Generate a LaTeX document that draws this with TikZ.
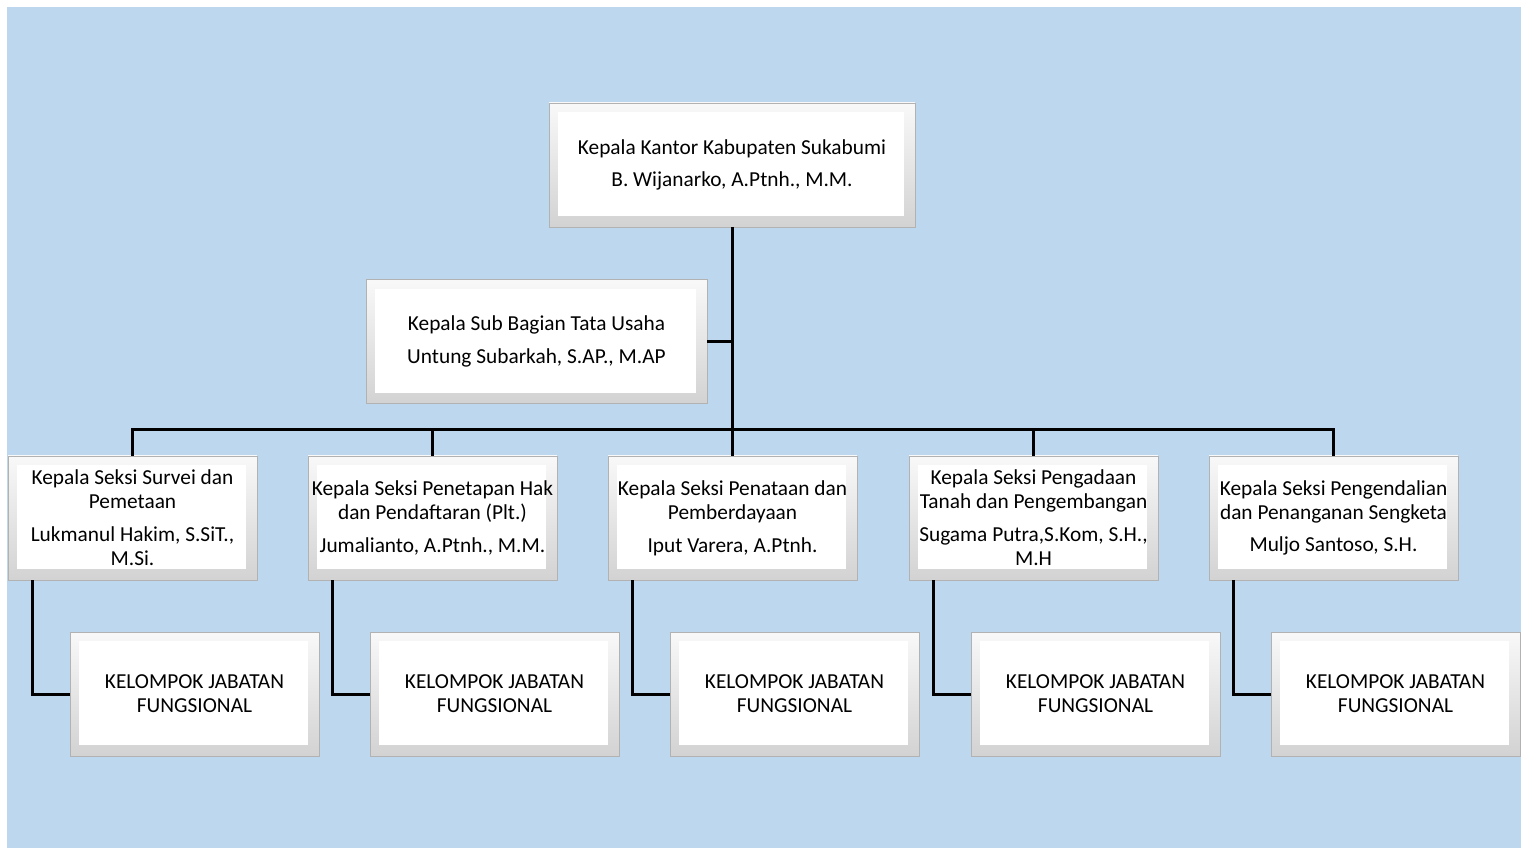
\documentclass[tikz,border=0pt]{standalone}
\usepackage{fontspec}
\setmainfont{Carlito}
\usetikzlibrary{positioning}
\definecolor{latar}{RGB}{189,215,238}
\tikzset{garis/.style={line width=2.25pt, black},
  kotak/.style={draw=gray!60, top color=gray!5, bottom color=gray!35, minimum width=186.75pt, minimum height=93pt,
    inner xsep=0pt, align=center, font=\fontsize{16}{18}\selectfont,
    path picture={\fill[white] ([shift={(7pt,-7pt)}]path picture bounding box.north west)
      rectangle ([shift={(-8pt,8pt)}]path picture bounding box.south east);}}}

\begin{document}
\begin{tikzpicture}[x=0.75pt, y=-0.75pt]
  \useasboundingbox (0,0) rectangle (1521,848);
  \fill[white] (0,0) rectangle (1521,848);
  \fill[latar] (7,7) rectangle (1521,848);
  % kepala kantor dan tata usaha
  \node[kotak, minimum width=274.5pt] (kakan) at (732,165) {Kepala Kantor Kabupaten Sukabumi\\[6.5pt]B. Wijanarko, A.Ptnh., M.M.};
  \node[kotak, minimum width=255.75pt] (tu) at (536.5,341.5) {Kepala Sub Bagian Tata Usaha\\[6.5pt]Untung Subarkah, S.AP., M.AP};
  \coordinate (cab) at (732,430);
  \draw[garis] (kakan.south) -- (cab);
  \draw[garis] (tu.east) -- (tu.east -| cab);
  % seksi dan kelompok jabatan fungsional
  \foreach \i/\x/\txt in {
    1/132.5/{Kepala Seksi Survei dan\\Pemetaan\\[6.5pt]Lukmanul Hakim, S.SiT.,\\M.Si.},
    2/432.5/{Kepala Seksi Penetapan Hak\\dan Pendaftaran (Plt.)\\[6.5pt]Jumalianto, A.Ptnh., M.M.},
    3/732.5/{Kepala Seksi Penataan dan\\Pemberdayaan\\[6.5pt]Iput Varera, A.Ptnh.},
    4/1033.5/{Kepala Seksi Pengadaan\\Tanah dan Pengembangan\\[6.5pt]Sugama Putra,S.Kom, S.H.,\\M.H},
    5/1333.5/{Kepala Seksi Pengendalian\\dan Penanganan Sengketa\\[6.5pt]Muljo Santoso, S.H.}}{
    \node[kotak] (s\i) at (\x,518) {\txt};
    \node[kotak] (k\i) at (\x+62,694) {KELOMPOK JABATAN\\FUNGSIONAL};
    \draw[garis] (s\i.north) |- (cab);
    \draw[garis] ([xshift=18.75pt]s\i.south west) |- (k\i.west);
  }
\end{tikzpicture}
\end{document}
